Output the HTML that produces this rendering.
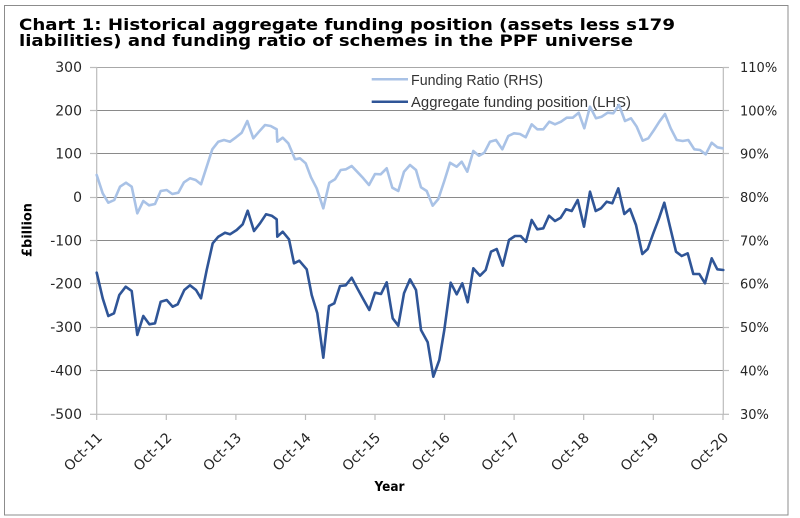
<!DOCTYPE html>
<html><head><meta charset="utf-8"><style>
html,body{margin:0;padding:0;background:#fff;}
svg{display:block;}
</style></head><body>
<svg width="800" height="518" viewBox="0 0 800 518" xmlns="http://www.w3.org/2000/svg">
<rect x="0" y="0" width="800" height="518" fill="#fff"/>
<rect x="4.5" y="5.5" width="783.5" height="509.5" fill="#fff" stroke="#8c8c8c" stroke-width="1"/>
<g font-family="'DejaVu Sans', Verdana, sans-serif" font-weight="bold" font-size="16" fill="#000">
<text x="19" y="30" textLength="656" lengthAdjust="spacingAndGlyphs">Chart 1: Historical aggregate funding position (assets less s179</text>
<text x="19" y="46" textLength="614" lengthAdjust="spacingAndGlyphs">liabilities) and funding ratio of schemes in the PPF universe</text>
</g>
<g stroke="#8a8a8a" stroke-width="1">
<line x1="97" y1="67.5" x2="723" y2="67.5" stroke="#a8a8a8"/>
<line x1="97" y1="110.5" x2="723" y2="110.5"/>
<line x1="97" y1="153.5" x2="723" y2="153.5"/>
<line x1="97" y1="197.5" x2="723" y2="197.5"/>
<line x1="97" y1="240.5" x2="723" y2="240.5"/>
<line x1="97" y1="283.5" x2="723" y2="283.5"/>
<line x1="97" y1="327.5" x2="723" y2="327.5"/>
<line x1="97" y1="370.5" x2="723" y2="370.5"/>
</g>
<g stroke="#bcbcbc" stroke-width="1.2">
<line x1="96.7" y1="67" x2="96.7" y2="414"/>
<line x1="723.3" y1="67" x2="723.3" y2="414"/>
<line x1="96" y1="414.3" x2="724" y2="414.3"/>
<line x1="90" y1="67.5" x2="97" y2="67.5"/><line x1="90" y1="110.5" x2="97" y2="110.5"/><line x1="90" y1="153.5" x2="97" y2="153.5"/><line x1="90" y1="197.5" x2="97" y2="197.5"/><line x1="90" y1="240.5" x2="97" y2="240.5"/><line x1="90" y1="283.5" x2="97" y2="283.5"/><line x1="90" y1="327.5" x2="97" y2="327.5"/><line x1="90" y1="370.5" x2="97" y2="370.5"/><line x1="90" y1="414.3" x2="97" y2="414.3"/>
<line x1="723" y1="67.5" x2="729" y2="67.5"/><line x1="723" y1="110.5" x2="729" y2="110.5"/><line x1="723" y1="153.5" x2="729" y2="153.5"/><line x1="723" y1="197.5" x2="729" y2="197.5"/><line x1="723" y1="240.5" x2="729" y2="240.5"/><line x1="723" y1="283.5" x2="729" y2="283.5"/><line x1="723" y1="327.5" x2="729" y2="327.5"/><line x1="723" y1="370.5" x2="729" y2="370.5"/><line x1="723" y1="414.3" x2="729" y2="414.3"/>
<line x1="96.7" y1="414" x2="96.7" y2="420"/><line x1="166.3" y1="414" x2="166.3" y2="420"/><line x1="235.9" y1="414" x2="235.9" y2="420"/><line x1="305.5" y1="414" x2="305.5" y2="420"/><line x1="375" y1="414" x2="375" y2="420"/><line x1="444.5" y1="414" x2="444.5" y2="420"/><line x1="514.1" y1="414" x2="514.1" y2="420"/><line x1="583.7" y1="414" x2="583.7" y2="420"/><line x1="653.3" y1="414" x2="653.3" y2="420"/><line x1="723" y1="414" x2="723" y2="420"/>
</g>
<g font-family="'DejaVu Sans', Verdana, sans-serif" font-size="14" fill="#262626" text-anchor="end">
<text x="82" y="72">300</text>
<text x="82" y="115.5">200</text>
<text x="82" y="158.5">100</text>
<text x="82" y="202">0</text>
<text x="82" y="245.5">-100</text>
<text x="82" y="288.5">-200</text>
<text x="82" y="332">-300</text>
<text x="82" y="375.5">-400</text>
<text x="82" y="419">-500</text>
</g>
<g font-family="'DejaVu Sans', Verdana, sans-serif" font-size="13" fill="#262626">
<text x="740" y="72">110%</text>
<text x="740" y="115.5">100%</text>
<text x="740" y="158.5">90%</text>
<text x="740" y="202">80%</text>
<text x="740" y="245.5">70%</text>
<text x="740" y="288.5">60%</text>
<text x="740" y="332">50%</text>
<text x="740" y="375.5">40%</text>
<text x="740" y="419">30%</text>
</g>
<g font-family="'DejaVu Sans', Verdana, sans-serif" font-size="14" fill="#262626" text-anchor="end">
<text transform="translate(103,438.5) rotate(-45)">Oct-11</text>
<text transform="translate(172.6,438.5) rotate(-45)">Oct-12</text>
<text transform="translate(242.2,438.5) rotate(-45)">Oct-13</text>
<text transform="translate(311.8,438.5) rotate(-45)">Oct-14</text>
<text transform="translate(381.3,438.5) rotate(-45)">Oct-15</text>
<text transform="translate(450.8,438.5) rotate(-45)">Oct-16</text>
<text transform="translate(520.4,438.5) rotate(-45)">Oct-17</text>
<text transform="translate(590,438.5) rotate(-45)">Oct-18</text>
<text transform="translate(659.6,438.5) rotate(-45)">Oct-19</text>
<text transform="translate(729.3,438.5) rotate(-45)">Oct-20</text>
</g>
<text x="389.5" y="491" font-family="'DejaVu Sans', Verdana, sans-serif" font-weight="bold" font-size="13" fill="#000" text-anchor="middle" textLength="30" lengthAdjust="spacingAndGlyphs">Year</text>
<text transform="translate(31.5,230) rotate(-90)" font-family="'DejaVu Sans', Verdana, sans-serif" font-weight="bold" font-size="13" fill="#000" text-anchor="middle" textLength="54" lengthAdjust="spacingAndGlyphs">£billion</text>
<line x1="371.7" y1="79.3" x2="408" y2="79.3" stroke="#a9c2e6" stroke-width="2.5"/>
<line x1="371.7" y1="101.7" x2="408" y2="101.7" stroke="#2f5597" stroke-width="2.5"/>
<g font-family="'Liberation Sans', Arial, sans-serif" font-size="15" fill="#333">
<text x="411" y="85" textLength="132" lengthAdjust="spacingAndGlyphs">Funding Ratio (RHS)</text>
<text x="411" y="107" textLength="220" lengthAdjust="spacingAndGlyphs">Aggregate funding position (LHS)</text>
</g>
<polyline fill="none" stroke="#a9c2e6" stroke-width="2.6" stroke-linejoin="round" stroke-linecap="round" points="96.7,175 102.7,193.3 108.3,202.7 114.3,200 120,186.7 126,182.7 131.7,186.7 137.3,213.3 143.3,201 149,205.3 155,204 160.7,191 166.7,190 172.3,194 178.3,192.7 184,182.3 190,178.3 195.7,180 201,184.3 206.7,166.7 212.3,149.3 218.3,141.7 224,140 230,141.7 236,137.3 241.7,132.7 247.3,121 253.3,138.3 259,131.7 265,125 270.7,126 276.7,129.3 277.3,141.7 282.7,137.7 288.3,143.3 295,159.3 300,158.3 305.7,163.3 311,177.3 316.7,188.3 323.3,208.3 329.3,182.7 335,179.3 340.7,170 346,169.3 351.7,166 357.7,172.3 363.3,178.3 369,185 375,174 380.7,174.3 386.7,168.3 392.3,187.7 398.3,191 404,171.7 410,165 416,170 421,187.3 426.7,191 432.7,205.7 438.3,199 444.3,181 450,162.7 456.7,166.7 461.7,161.7 467.3,171.7 473.3,151 479,155.7 484.3,152.7 490,141.7 496,140 502.3,149.3 508.3,136 514,133.3 520,134 525.7,137.3 531.7,124.3 537.3,129.3 543.3,129.3 549.3,121.7 555,124.3 561,121.7 566.7,117.7 572.7,117.7 578.7,112.7 584.3,128.3 590,106.7 596,118.3 601.7,116.7 607.7,112.7 613.3,113.3 619,105 625,121 631,118.3 636.7,126.7 642.7,140.7 648.3,138.3 654,130 659.3,121.7 665,114 670.7,128.3 676.7,140 682.7,141 688.3,140 694.3,149.3 700,150 705.7,154.3 711.7,142.7 717.3,147.3 722.7,148.3"/>
<polyline fill="none" stroke="#2f5597" stroke-width="2.6" stroke-linejoin="round" stroke-linecap="round" points="96.7,272.7 102.7,298.3 108.3,316 114,313.3 119.3,295 125.7,286.7 131.7,291 137.3,335 143.3,316 149.3,324.3 155,323.3 160.7,301.7 166.7,300 172.7,306.7 177.7,304.3 184.3,290 190,285.3 196,290 201,298.3 206.7,270 212.7,243.3 218.3,236.7 225,232.7 230,234.3 236.7,230 242.7,224.3 247.7,210.7 254,231 260,223.3 266,214.3 271.7,215.7 276.7,219.3 277.3,236.7 282.7,231.7 289,239.3 294,263.3 299.3,260.7 306.7,269.3 311.7,295 317.3,313.3 323.3,357.7 329,306 334.3,303.3 340,286 345.7,285.3 351.7,277.7 357.3,288.3 363.3,299.3 369.3,310 375,292.7 381,294 386.7,282.3 392.7,318.3 398.3,325.7 404,293.3 410,279.3 416,290 421,330 427.7,342.3 433.3,376.7 439.3,360 444.3,330 450.7,282.7 456.7,294.3 462.3,283.3 467.7,302.3 473.3,268.3 480,275.7 485.7,270 491,251.7 496.7,249 502.7,265.7 509,240 515,236 520.7,236 526,241.7 531.7,220 537.3,229.3 543.3,228.3 549,215.7 555,221 560.7,217.7 566,209.3 571.7,211 577.7,200 584,226.7 590,191.7 595.7,211 601,208.3 606.7,201.7 612.3,203.3 618.3,188.3 624.3,214 630,209 636,225 642.3,254 647.7,249 653.3,233.3 659,218.3 664.3,202.7 670,226.7 676,251.7 681.7,256 687.7,253.3 693.3,274 699.3,274 705,283.3 711.7,258.3 717.3,269.3 723.3,270"/>
</svg>
</body></html>
